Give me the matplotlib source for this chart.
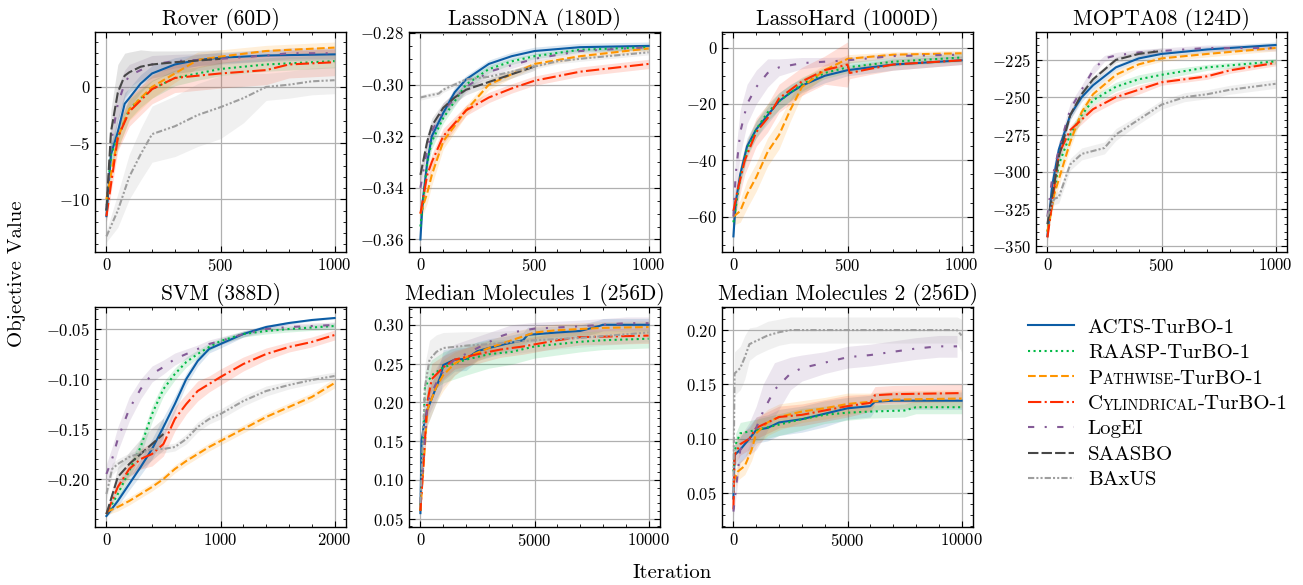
import numpy as np
import matplotlib
matplotlib.use("Agg")
import matplotlib.pyplot as plt
from matplotlib.ticker import AutoMinorLocator, MultipleLocator

plt.rcParams.update({
    "font.family": "cmr10",
    "mathtext.fontset": "cm",
    "axes.formatter.use_mathtext": True,
    "axes.unicode_minus": True,
    "xtick.direction": "in", "ytick.direction": "in",
    "xtick.top": True, "ytick.right": True,
    "xtick.major.size": 4, "ytick.major.size": 4,
    "xtick.minor.size": 2, "ytick.minor.size": 2,
    "xtick.minor.visible": True, "ytick.minor.visible": True,
    "xtick.labelsize": 12, "ytick.labelsize": 12,
    "axes.linewidth": 1.0,
    "axes.grid": True, "grid.color": "#b0b0b0", "grid.linewidth": 0.9,
    "axes.titlesize": 15.5,
})

METHODS = ["ACTS-TurBO-1", "RAASP-TurBO-1", "Pathwise-TurBO-1", "Cylindrical-TurBO-1",
           "LogEI", "SAASBO", "BAxUS"]
COLORS = ["#0C5DA5", "#00B945", "#FF9500", "#FF2C00", "#845B97", "#474747", "#9e9e9e"]
STYLES = ["-", ":", "--", "-.", (0, (3, 5, 1, 5)), (0, (5, 1.5)), (0, (3, 1, 1, 1, 1, 1))]

TITLES = ["Rover (60D)", "LassoDNA (180D)", "LassoHard (1000D)", "MOPTA08 (124D)",
          "SVM (388D)", "Median Molecules 1 (256D)", "Median Molecules 2 (256D)"]
XTICK_STEP = [500, 500, 500, 500, 1000, 5000, 5000]

# each entry: method -> (iterations, mean, half-width of band)
ROVER = {
    "ACTS-TurBO-1": ([0, 20, 50, 80, 100, 150, 200, 300, 400, 500, 700, 1000],
                     [-11.5, -6, -4, -1.5, -1, 0.3, 1.2, 2.0, 2.4, 2.6, 2.8, 2.9],
                     [0.5, 1.0, 1.2, 1.0, 0.9, 0.8, 0.7, 0.6, 0.5, 0.5, 0.5, 0.5]),
    "RAASP-TurBO-1": ([0, 20, 50, 100, 150, 200, 300, 400, 500, 700, 1000],
                      [-11, -6, -4.5, -2, -1, -0.2, 0.8, 1.2, 1.6, 2.0, 2.3],
                      [0.5, 1, 1, 0.9, 0.8, 0.8, 0.7, 0.6, 0.6, 0.6, 0.6]),
    "Pathwise-TurBO-1": ([0, 50, 100, 200, 300, 400, 500, 700, 1000],
                         [-10, -4.5, -2, 0, 1.2, 2.4, 2.7, 3.2, 3.5],
                         [0.5, 1, 1, 1, 0.8, 0.7, 0.6, 0.5, 0.5]),
    "Cylindrical-TurBO-1": ([0, 50, 100, 200, 300, 400, 500, 700, 800, 1000],
                            [-11.5, -4.5, -2.2, -0.2, 0.8, 1.0, 1.2, 1.5, 2.0, 2.2],
                            [0.5, 1.2, 1.3, 1.3, 1.3, 1.3, 1.3, 1.3, 1.2, 1.2]),
    "LogEI": ([0, 20, 50, 80, 100, 200, 300, 500, 700, 800, 1000],
              [-11, -5, -1.5, 0.3, 1.0, 2.0, 2.3, 2.5, 2.8, 3.0, 3.0],
              [0.5, 1.5, 1.5, 1.2, 1, 0.8, 0.6, 0.5, 0.5, 0.5, 0.5]),
    "SAASBO": ([0, 20, 50, 80, 100, 150, 200, 300, 500],
               [-11, -4, -0.5, 1.0, 1.3, 1.8, 2.0, 2.2, 2.5],
               [1, 2, 2.5, 2, 1.8, 1.5, 1.2, 1, 0.8]),
    "BAxUS": ([0, 50, 100, 150, 200, 300, 400, 500, 600, 700, 800, 900, 1000],
              [-13.3, -11, -8, -6, -4.2, -3.5, -2.5, -1.8, -1, 0, 0.2, 0.5, 0.6],
              [0.5, 1.5, 2, 2.3, 2.5, 2.7, 2.8, 2.8, 2.2, 1.2, 1.2, 1.2, 1.2]),
}

LASSODNA = {
    "ACTS-TurBO-1": ([0, 10, 30, 50, 100, 150, 200, 300, 400, 500, 700, 1000],
                     [-0.36, -0.345, -0.33, -0.32, -0.311, -0.303, -0.298, -0.292, -0.289, -0.287, -0.2855, -0.285],
                     [0.001, 0.003, 0.003, 0.003, 0.002, 0.002, 0.0015, 0.0015, 0.0015, 0.0015, 0.0015, 0.0015]),
    "RAASP-TurBO-1": ([0, 30, 50, 100, 200, 300, 400, 500, 700, 1000],
                      [-0.355, -0.33, -0.322, -0.313, -0.3, -0.294, -0.291, -0.289, -0.2865, -0.2855],
                      [0.002, 0.003, 0.003, 0.002, 0.002, 0.0015, 0.0012, 0.001, 0.001, 0.001]),
    "Pathwise-TurBO-1": ([0, 30, 50, 100, 200, 300, 400, 500, 700, 1000],
                         [-0.35, -0.342, -0.335, -0.322, -0.31, -0.3, -0.296, -0.292, -0.289, -0.286],
                         [0.003, 0.004, 0.004, 0.003, 0.002, 0.002, 0.0015, 0.0012, 0.001, 0.001]),
    "Cylindrical-TurBO-1": ([0, 30, 50, 100, 200, 300, 400, 500, 700, 1000],
                            [-0.35, -0.335, -0.33, -0.32, -0.31, -0.305, -0.3015, -0.2985, -0.295, -0.292],
                            [0.003, 0.003, 0.003, 0.003, 0.002, 0.002, 0.0018, 0.0018, 0.0018, 0.0018]),
    "LogEI": ([0, 30, 50, 100, 200, 300, 500, 700, 1000],
              [-0.34, -0.325, -0.318, -0.31, -0.301, -0.295, -0.29, -0.287, -0.2855],
              [0.004, 0.004, 0.003, 0.003, 0.002, 0.0015, 0.001, 0.001, 0.001]),
    "SAASBO": ([0, 30, 50, 100, 150, 200, 300, 400, 500],
               [-0.335, -0.322, -0.316, -0.309, -0.305, -0.302, -0.299, -0.296, -0.293],
               [0.003, 0.003, 0.003, 0.002, 0.002, 0.002, 0.0015, 0.0015, 0.0015]),
    "BAxUS": ([0, 50, 80, 100, 150, 200, 300, 400, 500, 600, 700, 1000],
              [-0.305, -0.304, -0.3035, -0.302, -0.3, -0.298, -0.297, -0.295, -0.293, -0.291, -0.29, -0.2875],
              [0.001, 0.001, 0.001, 0.001, 0.001, 0.001, 0.001, 0.001, 0.001, 0.001, 0.001, 0.001]),
}

LASSOHARD = {
    "ACTS-TurBO-1": ([0, 10, 30, 60, 100, 150, 200, 250, 300, 400, 500, 700, 1000],
                     [-67, -55, -45, -35, -29, -24, -19, -16, -13.5, -10, -8, -6, -4.5],
                     [2, 3, 3, 3, 3, 3, 3, 3, 2.5, 2.5, 2, 2, 1.5]),
    "RAASP-TurBO-1": ([0, 30, 60, 100, 150, 200, 300, 400, 500, 700, 1000],
                      [-62, -46, -36, -29, -23, -19, -13, -9, -7, -5, -3.5],
                      [3, 3, 3, 3, 3, 3, 2.5, 2, 2, 1.5, 1.5]),
    "Pathwise-TurBO-1": ([0, 30, 60, 100, 150, 200, 250, 300, 400, 500, 700, 1000],
                         [-60, -58, -52, -46, -37, -31, -22, -14, -8, -4, -2.5, -2],
                         [3, 4, 5, 5, 5, 5, 4, 3, 2, 1.5, 1, 1]),
    "Cylindrical-TurBO-1": ([0, 20, 50, 100, 150, 200, 300, 400, 500, 510, 600, 700, 1000],
                            [-58, -50, -40, -30, -25, -18, -12, -8, -6, -9, -7.5, -6, -4.5],
                            [4, 5, 5, 5, 5, 5, 5, 5, 8, 2, 2, 2, 1.5]),
    "LogEI": ([0, 10, 30, 60, 100, 150, 200, 300, 400, 500, 700, 1000],
              [-60, -45, -30, -20, -14, -9, -7, -5.5, -5, -4.5, -3, -2.5],
              [6, 8, 8, 7, 6, 5, 3, 2, 1.5, 1.2, 1, 1]),
}

MOPTA = {
    "ACTS-TurBO-1": ([0, 20, 50, 100, 150, 200, 300, 400, 500, 700, 1000],
                     [-343, -310, -285, -262, -250, -242, -230, -224, -221, -218, -215],
                     [3, 4, 4, 3, 3, 3, 2, 2, 2, 2, 2]),
    "RAASP-TurBO-1": ([0, 50, 100, 150, 200, 300, 400, 500, 700, 1000],
                      [-340, -295, -275, -262, -252, -243, -238, -235, -230, -226],
                      [3, 4, 4, 4, 3, 3, 3, 3, 2, 2]),
    "Pathwise-TurBO-1": ([0, 30, 50, 100, 150, 200, 300, 400, 500, 700, 1000],
                         [-340, -315, -305, -280, -260, -248, -235, -228, -224, -221, -217],
                         [3, 5, 5, 4, 4, 3, 3, 2, 2, 2, 2]),
    "Cylindrical-TurBO-1": ([0, 50, 100, 150, 200, 300, 400, 500, 700, 800, 1000],
                            [-344, -288, -272, -265, -258, -250, -245, -240, -236, -232, -227],
                            [3, 4, 3, 3, 3, 3, 3, 2, 2, 2, 2]),
    "LogEI": ([0, 20, 50, 100, 150, 200, 250, 300, 400, 500, 700, 1000],
              [-330, -305, -285, -258, -245, -232, -224, -222, -220, -219, -217, -217],
              [4, 5, 5, 4, 3, 3, 2, 2, 2, 2, 2, 2]),
    "SAASBO": ([0, 50, 100, 150, 200, 300, 400, 500],
               [-335, -290, -262, -248, -238, -225, -221, -219],
               [4, 4, 3, 3, 2, 2, 2, 2]),
    "BAxUS": ([0, 30, 50, 100, 150, 200, 250, 300, 400, 500, 600, 700, 800, 1000],
              [-330, -318, -317, -295, -288, -286, -284, -275, -265, -255, -250, -248, -245, -241],
              [3, 4, 4, 4, 4, 4, 4, 4, 3, 3, 3, 3, 3, 3]),
}

SVM = {
    "ACTS-TurBO-1": ([0, 100, 200, 300, 400, 500, 600, 700, 800, 900, 1000, 1200, 1400, 1600, 1800, 2000],
                     [-0.237, -0.222, -0.205, -0.188, -0.170, -0.148, -0.125, -0.100, -0.082, -0.070, -0.065,
                      -0.055, -0.048, -0.044, -0.041, -0.039],
                     [0.001, 0.005, 0.006, 0.008, 0.01, 0.01, 0.008, 0.006, 0.005, 0.004, 0.004, 0.003, 0.002,
                      0.0015, 0.001, 0.001]),
    "RAASP-TurBO-1": ([0, 100, 200, 300, 400, 500, 600, 700, 800, 900, 1000, 1200, 1400, 1600, 2000],
                      [-0.235, -0.215, -0.192, -0.168, -0.135, -0.11, -0.095, -0.083, -0.075, -0.068, -0.062,
                       -0.055, -0.052, -0.05, -0.047],
                      [0.002, 0.006, 0.007, 0.008, 0.008, 0.007, 0.006, 0.005, 0.004, 0.004, 0.003, 0.003,
                       0.003, 0.003, 0.003]),
    "Pathwise-TurBO-1": ([0, 100, 200, 300, 400, 500, 600, 700, 800, 900, 1000, 1200, 1400, 1600, 1800, 2000],
                         [-0.233, -0.228, -0.222, -0.215, -0.208, -0.2, -0.19, -0.182, -0.175, -0.168, -0.162,
                          -0.15, -0.138, -0.128, -0.118, -0.104],
                         [0.003, 0.004, 0.004, 0.004, 0.004, 0.004, 0.004, 0.004, 0.004, 0.004, 0.004, 0.004,
                          0.004, 0.004, 0.004, 0.005]),
    "Cylindrical-TurBO-1": ([0, 100, 200, 300, 400, 500, 600, 700, 800, 900, 1000, 1200, 1400, 1600, 1800, 2000],
                            [-0.235, -0.208, -0.19, -0.18, -0.175, -0.165, -0.14, -0.125, -0.112, -0.105, -0.098,
                             -0.085, -0.075, -0.068, -0.063, -0.056],
                            [0.002, 0.006, 0.008, 0.01, 0.012, 0.012, 0.012, 0.01, 0.01, 0.008, 0.008, 0.007,
                             0.006, 0.005, 0.005, 0.005]),
    "LogEI": ([0, 50, 100, 200, 300, 400, 500, 600, 700, 800, 900, 1000, 1200, 1400, 1600, 2000],
              [-0.195, -0.18, -0.16, -0.13, -0.11, -0.095, -0.088, -0.08, -0.075, -0.07, -0.065, -0.062,
               -0.055, -0.05, -0.048, -0.046],
              [0.01, 0.012, 0.012, 0.012, 0.01, 0.008, 0.007, 0.006, 0.005, 0.004, 0.004, 0.004, 0.003,
               0.003, 0.003, 0.003]),
    "SAASBO": ([0, 100, 200, 300, 400, 500],
               [-0.235, -0.198, -0.185, -0.175, -0.165, -0.155],
               [0.002, 0.01, 0.012, 0.015, 0.016, 0.016]),
    "BAxUS": ([0, 50, 100, 200, 300, 400, 500, 600, 700, 800, 900, 1000, 1200, 1400, 1600, 1800, 2000],
              [-0.215, -0.19, -0.185, -0.178, -0.174, -0.17, -0.17, -0.168, -0.16, -0.148, -0.14, -0.135,
               -0.122, -0.112, -0.106, -0.101, -0.097],
              [0.006, 0.006, 0.005, 0.004, 0.004, 0.004, 0.004, 0.004, 0.005, 0.005, 0.005, 0.005, 0.005,
               0.005, 0.004, 0.004, 0.004]),
}

MM1 = {
    "ACTS-TurBO-1": ([0, 50, 150, 300, 500, 700, 900, 1000, 1500, 2000, 2500, 3000, 3700, 4500, 4700, 6000,
                      7000, 7800, 8000, 10000],
                     [0.057, 0.15, 0.17, 0.19, 0.205, 0.22, 0.235, 0.248, 0.255, 0.256, 0.266, 0.27, 0.275,
                      0.28, 0.287, 0.29, 0.292, 0.298, 0.30, 0.30],
                     [0.005, 0.02, 0.02, 0.02, 0.02, 0.02, 0.02, 0.02, 0.015, 0.015, 0.012, 0.012, 0.01, 0.01,
                      0.01, 0.008, 0.008, 0.008, 0.008, 0.008]),
    "RAASP-TurBO-1": ([0, 200, 500, 1000, 2000, 3000, 4000, 5000, 6000, 7000, 8000, 10000],
                      [0.06, 0.22, 0.235, 0.245, 0.255, 0.262, 0.265, 0.272, 0.275, 0.278, 0.28, 0.282],
                      [0.005, 0.02, 0.02, 0.02, 0.02, 0.018, 0.016, 0.015, 0.014, 0.013, 0.012, 0.012]),
    "Pathwise-TurBO-1": ([0, 300, 700, 1000, 1500, 2000, 3000, 4000, 5000, 6000, 8000, 10000],
                         [0.06, 0.19, 0.22, 0.235, 0.25, 0.258, 0.27, 0.28, 0.29, 0.293, 0.296, 0.297],
                         [0.005, 0.02, 0.02, 0.02, 0.015, 0.012, 0.01, 0.01, 0.008, 0.008, 0.008, 0.008]),
    "Cylindrical-TurBO-1": ([0, 300, 500, 1000, 1500, 2500, 3500, 4500, 6000, 7000, 10000],
                            [0.06, 0.2, 0.23, 0.245, 0.255, 0.262, 0.268, 0.272, 0.28, 0.284, 0.286],
                            [0.005, 0.02, 0.02, 0.015, 0.012, 0.012, 0.01, 0.01, 0.01, 0.01, 0.01]),
    "LogEI": ([0, 300, 700, 1000, 1500, 2500, 3500, 4000, 5000, 7000, 9000, 10000],
              [0.07, 0.2, 0.225, 0.24, 0.255, 0.27, 0.285, 0.29, 0.295, 0.298, 0.302, 0.302],
              [0.01, 0.02, 0.02, 0.02, 0.02, 0.015, 0.01, 0.01, 0.008, 0.008, 0.008, 0.008]),
    "BAxUS": ([0, 200, 400, 700, 1000, 2000, 3000, 5000, 7000, 10000],
              [0.07, 0.22, 0.255, 0.265, 0.27, 0.273, 0.275, 0.28, 0.283, 0.29],
              [0.01, 0.03, 0.025, 0.022, 0.02, 0.018, 0.016, 0.014, 0.012, 0.012]),
}

MM2 = {
    "ACTS-TurBO-1": ([0, 50, 300, 500, 700, 1000, 1500, 2000, 3000, 4000, 5000, 6000, 6200, 7000, 10000],
                     [0.045, 0.085, 0.09, 0.095, 0.10, 0.108, 0.11, 0.115, 0.118, 0.123, 0.128, 0.13, 0.134,
                      0.135, 0.135],
                     [0.005, 0.01, 0.012, 0.012, 0.012, 0.012, 0.012, 0.012, 0.012, 0.012, 0.01, 0.01, 0.008,
                      0.008, 0.008]),
    "RAASP-TurBO-1": ([0, 100, 300, 1000, 2000, 3000, 4000, 5000, 6000, 7500, 8000, 10000],
                      [0.07, 0.095, 0.105, 0.108, 0.113, 0.118, 0.122, 0.124, 0.125, 0.126, 0.129, 0.129],
                      [0.01, 0.01, 0.01, 0.01, 0.01, 0.01, 0.008, 0.007, 0.006, 0.006, 0.006, 0.006]),
    "Pathwise-TurBO-1": ([0, 200, 500, 800, 1000, 1500, 2000, 3000, 4000, 5000, 6000, 7000, 10000],
                         [0.06, 0.07, 0.075, 0.09, 0.105, 0.115, 0.12, 0.125, 0.128, 0.132, 0.134, 0.136, 0.137],
                         [0.008, 0.008, 0.008, 0.01, 0.012, 0.012, 0.012, 0.01, 0.01, 0.01, 0.008, 0.008, 0.008]),
    "Cylindrical-TurBO-1": ([0, 50, 300, 700, 1000, 1500, 2000, 3000, 4000, 5000, 6000, 6200, 7000, 10000],
                            [0.035, 0.085, 0.095, 0.1, 0.11, 0.115, 0.12, 0.122, 0.126, 0.13, 0.133, 0.14, 0.141,
                             0.142],
                            [0.005, 0.01, 0.01, 0.01, 0.01, 0.01, 0.01, 0.01, 0.01, 0.01, 0.008, 0.008, 0.008,
                             0.008]),
    "LogEI": ([0, 300, 700, 1000, 1300, 1800, 2500, 3000, 4000, 5000, 6000, 7000, 8000, 9000, 9800],
              [0.033, 0.09, 0.1, 0.11, 0.125, 0.145, 0.16, 0.165, 0.17, 0.175, 0.177, 0.18, 0.183, 0.185, 0.185],
              [0.005, 0.012, 0.015, 0.02, 0.025, 0.025, 0.015, 0.012, 0.01, 0.01, 0.01, 0.01, 0.01, 0.01,
               0.01]),
    "BAxUS": ([0, 50, 300, 500, 700, 1000, 1500, 2000, 2500, 9800, 10000],
              [0.05, 0.16, 0.165, 0.175, 0.187, 0.19, 0.195, 0.198, 0.2, 0.2, 0.195],
              [0.01, 0.02, 0.02, 0.02, 0.015, 0.013, 0.013, 0.012, 0.012, 0.012, 0.015]),
}

PANELS = [ROVER, LASSODNA, LASSOHARD, MOPTA, SVM, MM1, MM2]

W, H = 1303, 585
fig = plt.figure(figsize=(W / 100, H / 100), dpi=100)
lefts = [95, 409, 722, 1036]
aw = 251
rows = [(32, 252), (307, 527)]

axes = []
for i in range(8):
    r, c = divmod(i, 4)
    top, bot = rows[r]
    ax = fig.add_axes([lefts[c] / W, 1 - bot / H, aw / W, (bot - top) / H])
    axes.append(ax)

for i, data in enumerate(PANELS):
    ax = axes[i]
    for m, col, ls in zip(METHODS, COLORS, STYLES):
        if m not in data:
            continue
        x, y, hw = (np.asarray(v, float) for v in data[m])
        ax.fill_between(x, y - hw, y + hw, color=col, alpha=0.15, lw=0)
        ax.plot(x, y, color=col, ls=ls, lw=1.5)
    ax.set_title(TITLES[i], pad=5)
    ax.xaxis.set_major_locator(MultipleLocator(XTICK_STEP[i]))
    ax.xaxis.set_minor_locator(AutoMinorLocator())
    ax.yaxis.set_minor_locator(AutoMinorLocator())
    ax.grid(which="minor", visible=False)
    ax.set_axisbelow(True)

axl = axes[7]
axl.axis("off")
handles = []
for m, col, ls in zip(METHODS, COLORS, STYLES):
    h, = axl.plot([], [], color=col, ls=ls, lw=1.5)
    handles.append(h)
labels = ["ACTS-TurBO-1", "RAASP-TurBO-1", "P", "C", "LogEI", "SAASBO", "BAxUS"]
LFS = 15
leg = axl.legend(handles, labels, loc="upper left", bbox_to_anchor=(1028 / W, 1 - 318 / H),
                 bbox_transform=fig.transFigure, frameon=False, fontsize=LFS,
                 borderpad=0, borderaxespad=0, handlelength=2.2, handletextpad=0.67, labelspacing=0.33)
texts = leg.get_texts()
for t, rest in [(texts[2], "ATHWISE"), (texts[3], "YLINDRICAL")]:
    a1 = axl.annotate(rest, xy=(1, 0), xycoords=t, xytext=(0.3, 0), textcoords="offset points",
                      ha="left", va="bottom", fontsize=10.5, annotation_clip=False, zorder=10)
    axl.annotate("-TurBO-1", xy=(1, 0), xycoords=a1, xytext=(0, 0), textcoords="offset points",
                 ha="left", va="bottom", fontsize=LFS, annotation_clip=False, zorder=10)

fig.text(17 / W, 1 - 274 / H, "Objective Value", rotation=90, ha="center", va="center", fontsize=15)
fig.text(672 / W, 1 - 573 / H, "Iteration", ha="center", va="center", fontsize=15)

fig.savefig("out.png", dpi=100)
